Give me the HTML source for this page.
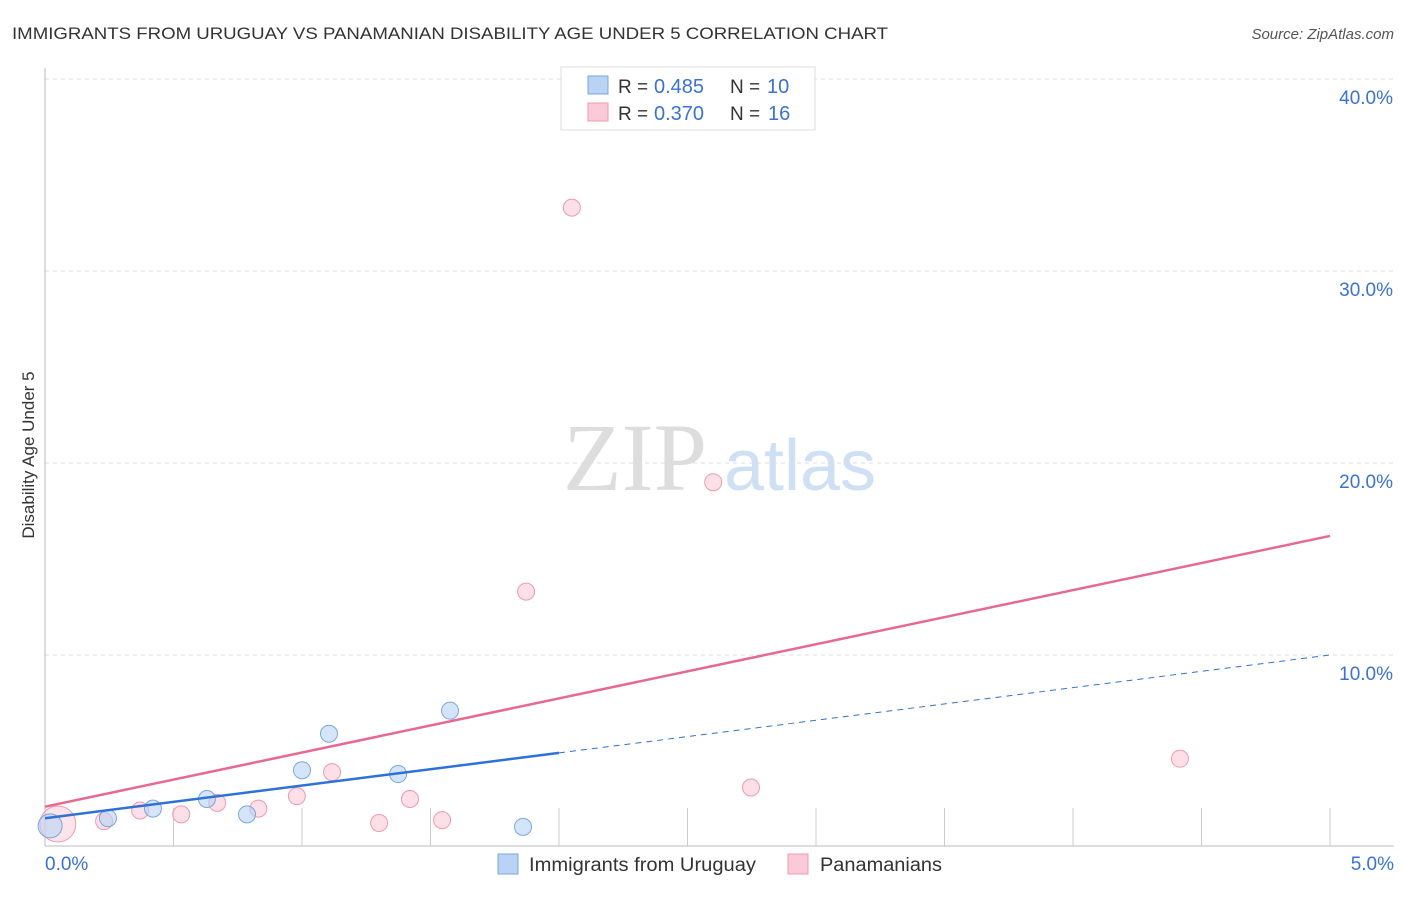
<!DOCTYPE html>
<html><head><meta charset="utf-8"><style>
body{margin:0;background:#fff;font-family:"Liberation Sans",sans-serif}
</style></head><body>
<svg width="1406" height="892" xmlns="http://www.w3.org/2000/svg" id="svg">
<text x="12" y="39" font-size="17" fill="#333" textLength="876" lengthAdjust="spacingAndGlyphs">IMMIGRANTS FROM URUGUAY VS PANAMANIAN DISABILITY AGE UNDER 5 CORRELATION CHART</text>
<text x="1394" y="39" font-size="15" fill="#555" font-style="italic" text-anchor="end">Source: ZipAtlas.com</text>
<text x="34" y="455" font-size="17" fill="#333" text-anchor="middle" transform="rotate(-90 34 455)">Disability Age Under 5</text>
<g>
<text x="635" y="490" font-size="96" fill="#ddd" font-family="Liberation Serif,serif" text-anchor="middle">ZIP</text>
<text x="800" y="490" font-size="72" fill="#cfe0f5" text-anchor="middle">atlas</text>
</g>
<g id="grid"></g><g id="marks"></g>
<g>
<rect x="561" y="67" width="254" height="63" fill="#fff" stroke="#ddd"/>
<rect x="588" y="76" width="20" height="18" fill="#b9d3f5" stroke="#7aa6e0"/>
<text x="618" y="93" font-size="19" fill="#333">R =</text>
<text x="654" y="93" font-size="20" fill="#3a72d4">0.485</text>
<text x="730" y="93" font-size="19" fill="#333">N =</text>
<text x="767" y="93" font-size="20" fill="#3a72d4">10</text>
<rect x="588" y="103" width="20" height="18" fill="#fbc9d7" stroke="#ee9ab2"/>
<text x="618" y="120" font-size="19" fill="#333">R =</text>
<text x="654" y="120" font-size="20" fill="#3a72d4">0.370</text>
<text x="730" y="120" font-size="19" fill="#333">N =</text>
<text x="768" y="120" font-size="20" fill="#3a72d4">16</text>
</g>
<g>
<rect x="498" y="854" width="20" height="20" fill="#b9d3f5" stroke="#7aa6e0"/>
<text x="529" y="871" font-size="19" fill="#333" textLength="227" lengthAdjust="spacingAndGlyphs">Immigrants from Uruguay</text>
<rect x="788" y="854" width="20" height="20" fill="#fbc9d7" stroke="#ee9ab2"/>
<text x="820" y="871" font-size="19" fill="#333" textLength="122" lengthAdjust="spacingAndGlyphs">Panamanians</text>
</g>
</svg>
<script>
const yTicks=[10,20,30,40];
const yTickLabels=["10.0%","20.0%","30.0%","40.0%"];
const blueX=[0.02,0.245,0.42,0.63,0.786,1.0,1.105,1.374,1.576,1.86];
const blueY=[1.1,1.5,2.0,2.5,1.7,4.0,5.9,3.8,7.1,1.05];
const pinkX=[0.05,0.23,0.37,0.53,0.67,0.83,0.98,1.117,1.3,1.42,1.545,1.872,2.05,2.6,2.747,4.416];
const pinkY=[1.2,1.35,1.9,1.7,2.3,2.0,2.65,3.9,1.25,2.5,1.4,13.3,33.3,19.0,3.1,4.6];
const blueLine=[[0,1.5],[2.0,4.9],[5.0,10.0]];
const pinkLine=[[0,2.1],[5.0,16.2]];
const X=v=>45+v*257, Y=v=>847-v*19.2;
const NS="http://www.w3.org/2000/svg";
function mk(p,t,a){const e=document.createElementNS(NS,t);for(const k in a)e.setAttribute(k,a[k]);p.appendChild(e);return e;}
const g=document.getElementById('grid'),m=document.getElementById('marks');
yTicks.forEach((t,i)=>{
 const l=mk(g,'line',{x1:45,x2:1394,y1:Y(t),y2:Y(t),stroke:'#ddd','stroke-dasharray':'4 4'});
 
 
 const tx=mk(g,'text',{x:1393,y:Y(t)+25,'font-size':19,fill:'#3a72d4','text-anchor':'end'});tx.textContent=yTickLabels[i];
 
 
});
mk(g,'line',{x1:45,x2:45,y1:68,y2:846,stroke:'#bbb'});
mk(g,'line',{x1:45,x2:1394,y1:846,y2:846,stroke:'#bbb'});
for(let i=1;i<=10;i++){const tk=mk(g,'line',{x1:X(i*0.5),x2:X(i*0.5),y1:808,y2:846,stroke:'#ccc'});
 
 }
const x0=mk(g,'text',{x:45,y:870,'font-size':19,fill:'#3a72d4'});x0.textContent='0.0%';


const x1=mk(g,'text',{x:1394,y:870,'font-size':19,fill:'#3a72d4','text-anchor':'end'});x1.textContent='5.0%';


mk(m,'circle',{cx:X(0.05),cy:Y(1.2),r:18,fill:'#fbc9d7','fill-opacity':0.5,stroke:'#ee9ab2'});
pinkX.forEach((v,i)=>{if(i==0)return;const c=mk(m,'circle',{cx:X(v),cy:Y(pinkY[i]),r:8.5,fill:'#fbc9d7','fill-opacity':0.6,stroke:'#ee9ab2'});
 
 });
blueX.forEach((v,i)=>{const c=mk(m,'circle',{cx:X(v),cy:Y(blueY[i]),r:i==0?12:8.5,fill:'#b9d3f5','fill-opacity':0.6,stroke:'#7aa6e0'});
 
 });
const pl=mk(m,'line',{x1:X(pinkLine[0][0]),y1:Y(pinkLine[0][1]),x2:X(pinkLine[1][0]),y2:Y(pinkLine[1][1]),stroke:'#e8698f','stroke-width':2.5});


const bl=mk(m,'line',{x1:X(blueLine[0][0]),y1:Y(blueLine[0][1]),x2:X(blueLine[1][0]),y2:Y(blueLine[1][1]),stroke:'#2f72d6','stroke-width':2.5});


const bd=mk(m,'line',{x1:X(blueLine[1][0]),y1:Y(blueLine[1][1]),x2:X(blueLine[2][0]),y2:Y(blueLine[2][1]),stroke:'#2f72d6','stroke-width':1,'stroke-dasharray':'6 5'});


</script>
</body></html>
